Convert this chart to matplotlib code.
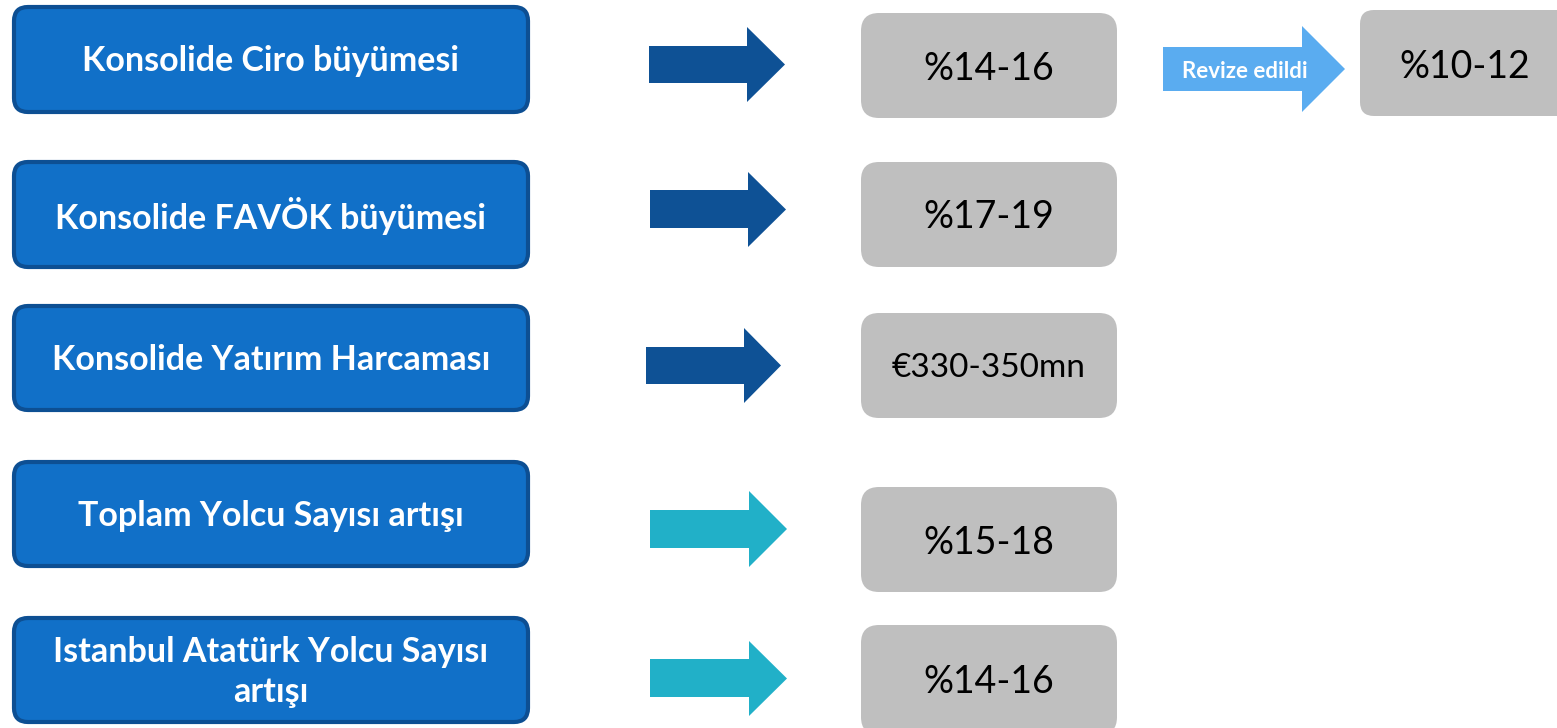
import matplotlib
matplotlib.use("Agg")
import matplotlib.pyplot as plt
from matplotlib.patches import FancyBboxPatch, Polygon

# ---- content ----
metrics = ["Konsolide Ciro büyümesi", "Konsolide FAVÖK büyümesi",
           "Konsolide Yatırım Harcaması", "Toplam Yolcu Sayısı artışı",
           "Istanbul Atatürk Yolcu Sayısı\nartışı"]
guidance = ["%14-16", "%17-19", "€330-350mn", "%15-18", "%14-16"]
arrow_kind = ["fin", "fin", "fin", "traffic", "traffic"]
revised_label = "Revize edildi"
revised_value = "%10-12"

# ---- layout (pixels) ----
W, H = 1557, 728
left_boxes = [(12, 5, 114), (12, 160, 269), (12, 304, 412), (12, 460, 568), (12, 616, 724)]
label_y = [61, 216, 360, 516, 672]
gray_boxes = [(13, 118), (162, 267), (313, 418), (487, 592), (625, 735)]
value_y = [69, 217, 368, 543, 682]
arrows = [(649, 747, 785, 46, 83, 27, 102), (650, 748, 786, 190, 228, 172, 247),
          (646, 744, 781, 347, 384, 328, 403), (650, 749, 787, 510, 548, 491, 567),
          (650, 749, 787, 659, 697, 641, 716)]
colors = {"fin": "#0E5195", "traffic": "#21B0C8"}
value_sizes = [27, 27, 24, 27, 27]

fig = plt.figure(figsize=(W / 100, H / 100), dpi=100)
ax = fig.add_axes([0, 0, 1, 1])
ax.set_xlim(0, W)
ax.set_ylim(H, 0)
ax.axis("off")

FONT = "Lato"

def rbox(x0, y0, x1, y1, fc, ec=None, lw=0, r=15, z=1):
    p = FancyBboxPatch((x0, y0), x1 - x0, y1 - y0,
                       boxstyle=f"round,pad=0,rounding_size={r}",
                       fc=fc, ec=ec if ec else fc, lw=lw, zorder=z)
    ax.add_patch(p)

def arrow(x0, xs, xt, sy0, sy1, hy0, hy1, c):
    ym = (hy0 + hy1) / 2
    pts = [(x0, sy0), (xs, sy0), (xs, hy0), (xt, ym), (xs, hy1), (xs, sy1), (x0, sy1)]
    ax.add_patch(Polygon(pts, closed=True, fc=c, ec="none", zorder=2))

for i, label in enumerate(metrics):
    x0, y0, y1 = left_boxes[i]
    rbox(x0 + 2, y0 + 2, 528, y1 - 2, "#1170C8", "#0D4F93", lw=3, r=14)
    ax.text(271, label_y[i], label, ha="center", va="center", color="white",
            fontsize=24.5, fontweight="bold", family=FONT, linespacing=1.3, zorder=3)

    arrow(*arrows[i], colors[arrow_kind[i]])

    gy0, gy1 = gray_boxes[i]
    rbox(861, gy0, 1117, gy1, "#BFBFBF", r=18)
    ax.text(989, value_y[i], guidance[i], ha="center", va="center", color="black",
            fontsize=value_sizes[i], family=FONT, zorder=3)

# revised arrow + box
arrow(1163, 1302, 1345, 47, 91, 26, 112, "#5AACF0")
ax.text(1245, 72, revised_label, ha="center", va="center", color="white",
        fontsize=16, fontweight="bold", family=FONT, zorder=3)
rbox(1360, 10, 1600, 116, "#BFBFBF", r=14)
ax.text(1465, 67, revised_value, ha="center", va="center", color="black",
        fontsize=27, family=FONT, zorder=3)

fig.savefig("out.png", dpi=100)
